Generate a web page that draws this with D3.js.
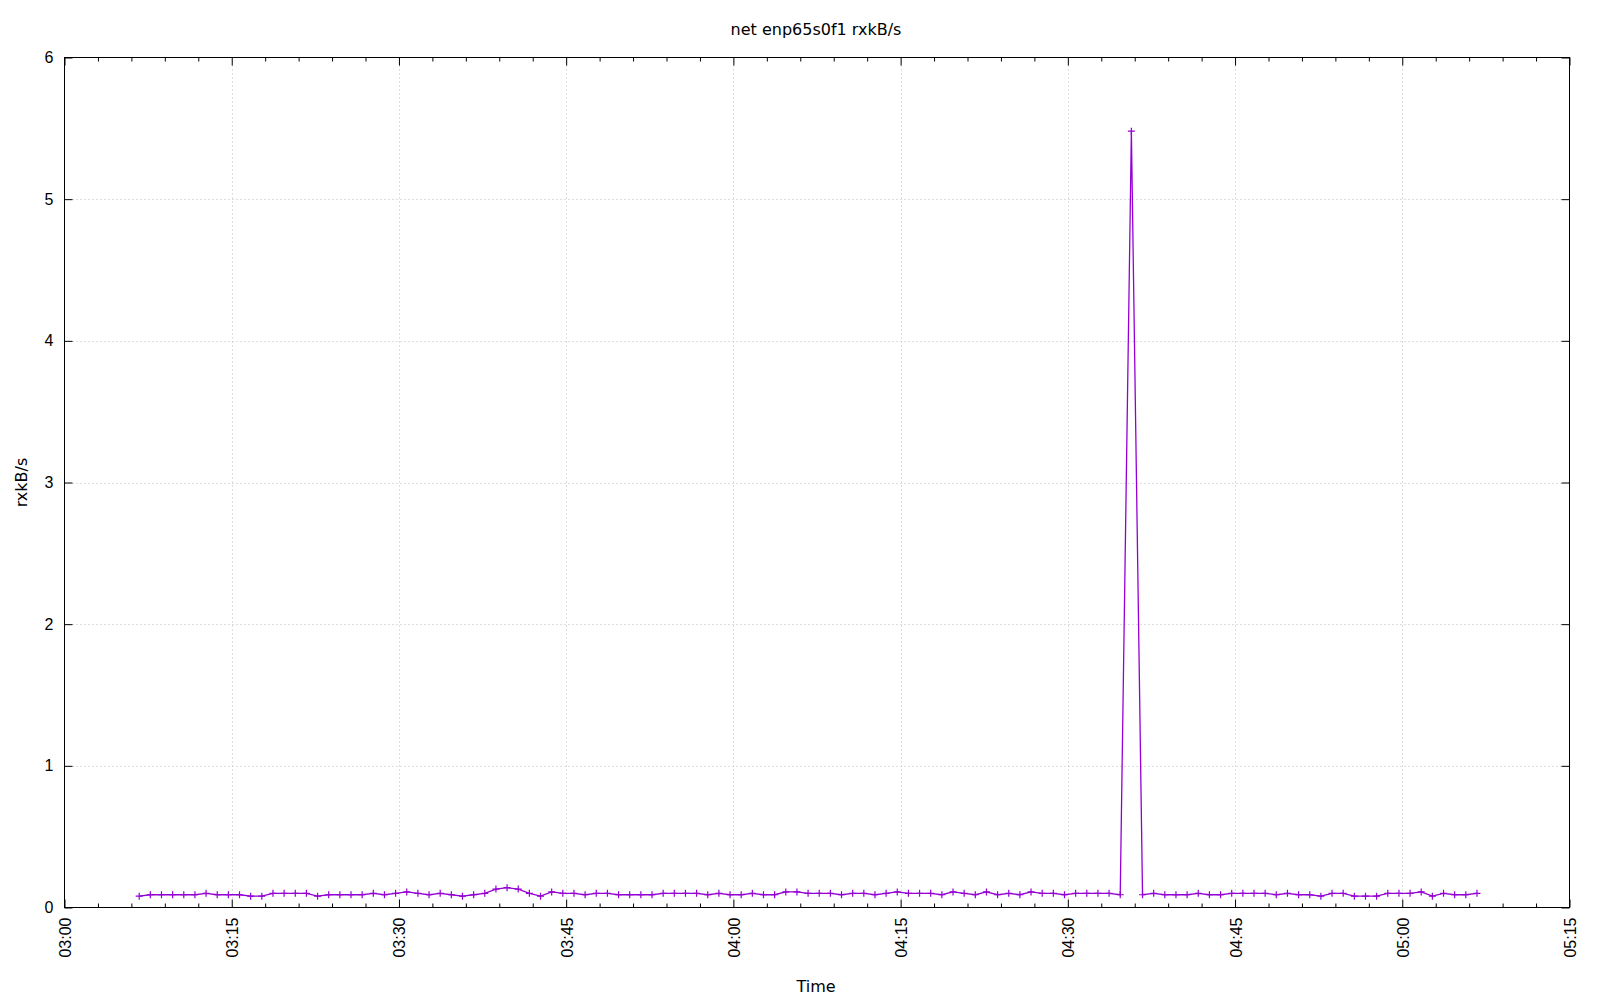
<!DOCTYPE html>
<html>
<head>
<meta charset="utf-8">
<script src="https://cdn.jsdelivr.net/npm/d3@7"></script>
<style>
  html, body { margin: 0; padding: 0; background: #fff; }
  svg { display: block; font-family: "DejaVu Sans", sans-serif; }
</style>
</head>
<body>
<svg id="chart" width="1600" height="1000"></svg>
<script>
const title = "net enp65s0f1 rxkB/s";
const xLabel = "Time";
const yLabel = "rxkB/s";
const xDomain = ["03:00:00", "05:15:00"];
const yDomain = [0, 6];
const yTicks = [0, 1, 2, 3, 4, 5, 6];
const xTickLabels = ["03:00", "03:15", "03:30", "03:45", "04:00", "04:15", "04:30", "04:45", "05:00", "05:15"];

const times = [
  "03:06:42","03:07:42","03:08:42","03:09:42","03:10:42","03:11:42","03:12:42","03:13:42","03:14:42","03:15:42",
  "03:16:42","03:17:42","03:18:42","03:19:42","03:20:42","03:21:42","03:22:42","03:23:42","03:24:42","03:25:42",
  "03:26:42","03:27:42","03:28:42","03:29:42","03:30:42","03:31:42","03:32:42","03:33:42","03:34:42","03:35:42",
  "03:36:42","03:37:42","03:38:42","03:39:42","03:40:42","03:41:42","03:42:42","03:43:42","03:44:42","03:45:42",
  "03:46:42","03:47:42","03:48:42","03:49:42","03:50:42","03:51:42","03:52:42","03:53:42","03:54:42","03:55:42",
  "03:56:42","03:57:42","03:58:42","03:59:42","04:00:42","04:01:42","04:02:42","04:03:42","04:04:42","04:05:42",
  "04:06:42","04:07:42","04:08:42","04:09:42","04:10:42","04:11:42","04:12:42","04:13:42","04:14:42","04:15:42",
  "04:16:42","04:17:42","04:18:42","04:19:42","04:20:42","04:21:42","04:22:42","04:23:42","04:24:42","04:25:42",
  "04:26:42","04:27:42","04:28:42","04:29:42","04:30:42","04:31:42","04:32:42","04:33:42","04:34:42","04:35:42",
  "04:36:42","04:37:42","04:38:42","04:39:42","04:40:42","04:41:42","04:42:42","04:43:42","04:44:42","04:45:42",
  "04:46:42","04:47:42","04:48:42","04:49:42","04:50:42","04:51:42","04:52:42","04:53:42","04:54:42","04:55:42",
  "04:56:42","04:57:42","04:58:42","04:59:42","05:00:42","05:01:42","05:02:42","05:03:42","05:04:42","05:05:42",
  "05:06:42"
];

const rxkBs = [
  0.08,0.09,0.09,0.09,0.09,0.09,0.10,0.09,0.09,0.09,
  0.08,0.08,0.10,0.10,0.10,0.10,0.08,0.09,0.09,0.09,
  0.09,0.10,0.09,0.10,0.11,0.10,0.09,0.10,0.09,0.08,
  0.09,0.10,0.13,0.14,0.13,0.10,0.08,0.11,0.10,0.10,
  0.09,0.10,0.10,0.09,0.09,0.09,0.09,0.10,0.10,0.10,
  0.10,0.09,0.10,0.09,0.09,0.10,0.09,0.09,0.11,0.11,
  0.10,0.10,0.10,0.09,0.10,0.10,0.09,0.10,0.11,0.10,
  0.10,0.10,0.09,0.11,0.10,0.09,0.11,0.09,0.10,0.09,
  0.11,0.10,0.10,0.09,0.10,0.10,0.10,0.10,0.09,5.48,
  0.09,0.10,0.09,0.09,0.09,0.10,0.09,0.09,0.10,0.10,
  0.10,0.10,0.09,0.10,0.09,0.09,0.08,0.10,0.10,0.08,
  0.08,0.08,0.10,0.10,0.10,0.11,0.08,0.10,0.09,0.09,
  0.10
];

const parse = d3.timeParse("%H:%M:%S");
const data = times.map((t, i) => ({ t: parse(t), v: rxkBs[i] }));

const L = 64.5, R = 1569.5, T = 57.5, B = 907.5;
const svg = d3.select("#chart");

const x = d3.scaleTime().domain(xDomain.map(parse)).range([L, R]);
const y = d3.scaleLinear().domain(yDomain).range([B, T]);

const majorX = d3.timeMinute.every(15).range(x.domain()[0], new Date(+x.domain()[1] + 1));
const minorX = d3.timeMinute.every(3).range(x.domain()[0], new Date(+x.domain()[1] + 1))
  .filter(d => d.getMinutes() % 15 !== 0);

// grid
const grid = svg.append("g").attr("stroke", "#bdbdbd").attr("stroke-width", 1).attr("stroke-dasharray", "1,3");
majorX.slice(1, -1).forEach(d => {
  const px = Math.round(x(d)) + 0.5;
  grid.append("line").attr("x1", px).attr("x2", px).attr("y1", T).attr("y2", B);
});
yTicks.slice(1, -1).forEach(v => {
  const py = Math.round(y(v)) + 0.5;
  grid.append("line").attr("x1", L).attr("x2", R).attr("y1", py).attr("y2", py);
});

// axes via d3 axis (inward ticks, mirrored)
const fmt = d => xTickLabels[majorX.findIndex(m => +m === +d)];
const xAxisB = d3.axisBottom(x).tickValues(majorX).tickSizeInner(-8).tickSizeOuter(0).tickFormat(fmt);
const gxb = svg.append("g").attr("transform", `translate(0,${B})`).call(xAxisB);
gxb.select(".domain").remove();
gxb.selectAll("text")
  .attr("font-size", 16).attr("fill", "#000")
  .attr("text-anchor", "end")
  .attr("dy", null).attr("y", null)
  .attr("transform", function(d) { return `translate(6,10) rotate(-90)`; });
gxb.selectAll(".tick line").attr("stroke", "#000");

const xMinB = d3.axisBottom(x).tickValues(minorX).tickSizeInner(-4).tickSizeOuter(0).tickFormat("");
const gmb = svg.append("g").attr("transform", `translate(0,${B})`).call(xMinB);
gmb.select(".domain").remove();
gmb.selectAll("line").attr("stroke", "#000");

const xAxisT = d3.axisTop(x).tickValues(majorX).tickSizeInner(-8).tickSizeOuter(0).tickFormat("");
const gxt = svg.append("g").attr("transform", `translate(0,${T})`).call(xAxisT);
gxt.select(".domain").remove();
gxt.selectAll("line").attr("stroke", "#000");
const xMinT = d3.axisTop(x).tickValues(minorX).tickSizeInner(-4).tickSizeOuter(0).tickFormat("");
const gmt = svg.append("g").attr("transform", `translate(0,${T})`).call(xMinT);
gmt.select(".domain").remove();
gmt.selectAll("line").attr("stroke", "#000");

const yAxisL = d3.axisLeft(y).tickValues(yTicks).tickSizeInner(-8).tickSizeOuter(0).tickPadding(11).tickFormat(d3.format("d"));
const gyl = svg.append("g").attr("transform", `translate(${L},0)`).call(yAxisL);
gyl.select(".domain").remove();
gyl.selectAll("text").attr("font-size", 16).attr("fill", "#000").attr("x", -11);
gyl.selectAll(".tick line").attr("stroke", "#000");
const yAxisR = d3.axisRight(y).tickValues(yTicks).tickSizeInner(-8).tickSizeOuter(0).tickFormat("");
const gyr = svg.append("g").attr("transform", `translate(${R},0)`).call(yAxisR);
gyr.select(".domain").remove();
gyr.selectAll("line").attr("stroke", "#000");

// border
svg.append("rect").attr("x", L).attr("y", T).attr("width", R - L).attr("height", B - T)
  .attr("fill", "none").attr("stroke", "#000").attr("stroke-width", 1);

// line
const color = "#9400d3";
svg.append("path").datum(data)
  .attr("fill", "none").attr("stroke", color).attr("stroke-width", 1.3)
  .attr("d", d3.line().x(d => x(d.t)).y(d => y(d.v)));

// plus markers
const s = 3.5;
svg.append("g").attr("stroke", color).attr("stroke-width", 1.2)
  .selectAll("path").data(data).join("path")
  .attr("d", d => {
    const px = x(d.t), py = y(d.v);
    return `M${px - s},${py}H${px + s}M${px},${py - s}V${py + s}`;
  });

// labels
svg.append("text").attr("x", 816).attr("y", 35).attr("text-anchor", "middle")
  .attr("font-size", 16).attr("fill", "#000").text(title);
svg.append("text").attr("x", 816).attr("y", 992).attr("text-anchor", "middle")
  .attr("font-size", 16).attr("fill", "#000").text(xLabel);
svg.append("text").attr("transform", `translate(27,${(T + B) / 2}) rotate(-90)`)
  .attr("text-anchor", "middle").attr("font-size", 16).attr("fill", "#000").text(yLabel);
</script>
</body>
</html>
